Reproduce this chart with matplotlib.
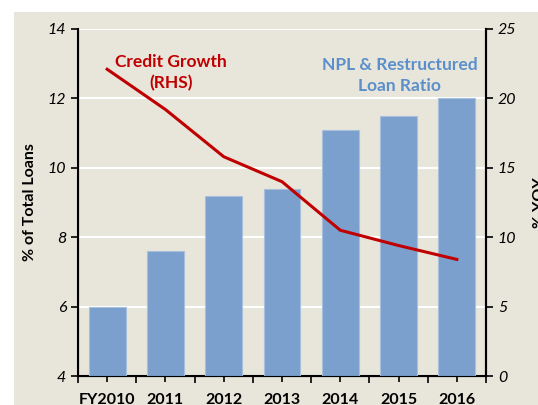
import numpy as np
import matplotlib.pyplot as plt
from matplotlib.patches import Rectangle

plt.rcParams["font.family"] = ["Lato", "DejaVu Sans"]

years = ["FY2010", "2011", "2012", "2013", "2014", "2015", "2016"]
npl_ratio = [6.0, 7.6, 9.2, 9.4, 11.1, 11.5, 12.0]
credit_growth = [22.1, 19.2, 15.8, 14.0, 10.5, 9.4, 8.4]

bg = "#E8E6DA"
bar_color = "#7BA0CD"
red = "#C00000"

fig = plt.figure(figsize=(5.38, 4.05), dpi=100, facecolor="white")
fig.add_artist(Rectangle((14 / 538, 0), 1, 1 - 12 / 405, transform=fig.transFigure,
                         facecolor=bg, edgecolor="none", zorder=-10))

ax = fig.add_axes([78 / 538, 29 / 405, (486 - 78) / 538, (376 - 29) / 405])
ax.set_facecolor(bg)
x = np.arange(len(years))
ax.bar(x, npl_ratio, width=0.63, color=bar_color, edgecolor="#A9C0DC", linewidth=0.8, zorder=3)
ax.set_ylim(4, 14)
ax.set_xlim(-0.5, len(years) - 0.5)
ax.set_yticks(np.arange(4, 15, 2))
ax.set_yticklabels([str(v) for v in range(4, 15, 2)], fontstyle="italic", fontsize=11.5)
ax.grid(axis="y", color="white", linewidth=1.5, zorder=1)
ax.set_axisbelow(True)

ax.set_xticks(np.arange(-0.5, len(years), 1))
ax.set_xticklabels([])
ax.set_xticks(x, minor=True)
ax.set_xticklabels(years, minor=True, fontweight="bold", fontsize=11.5)
ax.tick_params(axis="x", which="major", direction="out", length=5, width=1.2)
ax.tick_params(axis="x", which="minor", direction="out", length=4, width=1.2, pad=8)
ax.tick_params(axis="y", direction="out", length=5, width=1.2)

ax.spines["top"].set_visible(False)
for side in ["left", "right", "bottom"]:
    ax.spines[side].set_linewidth(1.5)
ax.set_ylabel("% of Total Loans", fontweight="bold", fontsize=11.5, labelpad=8)

ax2 = ax.twinx()
ax2.plot(x, credit_growth, color=red, linewidth=2.2, zorder=4)
ax2.set_ylim(0, 25)
ax2.set_yticks(np.arange(0, 26, 5))
ax2.set_yticklabels([str(v) for v in range(0, 26, 5)], fontstyle="italic", fontsize=11.5)
ax2.tick_params(axis="y", direction="out", length=5, width=1.2)
ax2.spines["top"].set_visible(False)
ax2.spines["right"].set_linewidth(1.5)
ax2.set_ylabel("% YOY", fontweight="bold", fontsize=11.5, rotation=90, labelpad=12)

ax.text(1.1, 12.75, "Credit Growth\n(RHS)", color=red, fontweight="bold", fontsize=12.5,
        ha="center", va="center", linespacing=1.35)
ax.text(5.02, 12.66, "NPL & Restructured\nLoan Ratio", color="#5B8FCB", fontweight="bold",
        fontsize=12.5, ha="center", va="center", linespacing=1.35)

plt.savefig("out.png", dpi=100, facecolor="white")
